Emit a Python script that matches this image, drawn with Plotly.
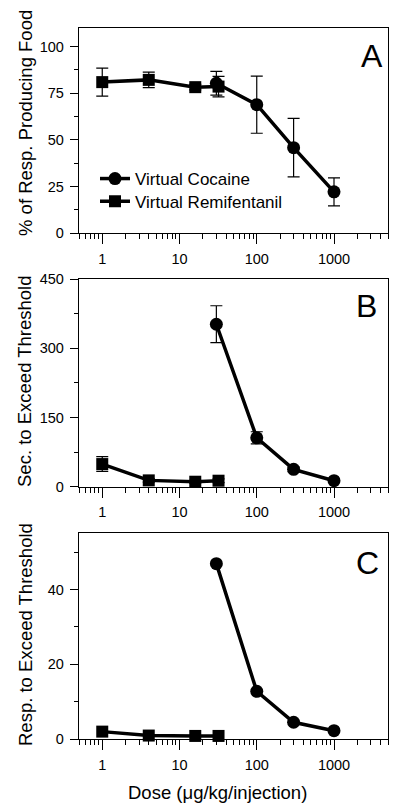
import math
import plotly.graph_objects as go

# ---------------- data ----------------
dose_cocaine = [30, 100, 300, 1000]
dose_remi = [1, 4, 16, 32]

# Panel A: % of responses producing food
cocaine_A = [80.4, 68.9, 45.9, 22.2]
cocaine_A_err = [6.4, 15.3, 15.7, 7.5]
remi_A = [81.0, 82.2, 78.3, 78.6]
remi_A_err = [7.5, 4.2, 1.5, 5.5]

# Panel B: seconds to exceed threshold
cocaine_B = [352, 106, 37.6, 13]
cocaine_B_err = [40, 13, 5, 3]
remi_B = [49, 13.7, 10.8, 13]
remi_B_err = [16, 4, 3, 4]

# Panel C: responses to exceed threshold
cocaine_C = [46.9, 12.8, 4.55, 2.3]
remi_C = [2.05, 1.0, 0.9, 0.9]

x_tickvals = [1, 10, 100, 1000]
x_ticktext = ["1", "10", "100", "1000"]

panel_letters = ["A", "B", "C"]
y_titles = ["% of Resp. Producing Food", "Sec. to Exceed Threshold", "Resp. to Exceed Threshold"]
x_title = "Dose (\u03bcg/kg/injection)"

# ---------------- layout helpers ----------------
# page body has an 8px margin, so the figure is 392x802 placed at (8, 8)
OFF = 8
W, H = 400 - OFF, 810 - OFF
FONT = "Liberation Sans, Arial, sans-serif"

def px_x(x):
    return (x - OFF) / W

def px_y(y):
    return (H - (y - OFF)) / H

x_dom = [px_x(79), px_x(388)]
y_doms = [
    [px_y(233.3), px_y(28)],
    [px_y(486.7), px_y(279)],
    [px_y(739.3), px_y(533.3)],
]

fig = go.Figure()

line_style = dict(color="black", width=3.5)
circ = dict(symbol="circle", size=13, color="black", line=dict(width=0))
sq = dict(symbol="square", size=12, color="black", line=dict(width=0))

def err(vals):
    return dict(type="data", array=vals, visible=True, color="black", thickness=1.2, width=6)

# Panel A
fig.add_trace(go.Scatter(x=dose_cocaine, y=cocaine_A, error_y=err(cocaine_A_err),
                         mode="lines+markers", line=line_style, marker=circ,
                         name="Virtual Cocaine", legend="legend",
                         xaxis="x", yaxis="y", cliponaxis=False))
fig.add_trace(go.Scatter(x=dose_remi, y=remi_A, error_y=err(remi_A_err),
                         mode="lines+markers", line=line_style, marker=sq,
                         name="Virtual Remifentanil", legend="legend2",
                         xaxis="x", yaxis="y", cliponaxis=False))
# Panel B
fig.add_trace(go.Scatter(x=dose_cocaine, y=cocaine_B, error_y=err(cocaine_B_err),
                         mode="lines+markers", line=line_style, marker=circ,
                         showlegend=False, xaxis="x2", yaxis="y2", cliponaxis=False))
fig.add_trace(go.Scatter(x=dose_remi, y=remi_B, error_y=err(remi_B_err),
                         mode="lines+markers", line=line_style, marker=sq,
                         showlegend=False, xaxis="x2", yaxis="y2", cliponaxis=False))
# Panel C
fig.add_trace(go.Scatter(x=dose_cocaine, y=cocaine_C,
                         mode="lines+markers", line=line_style, marker=circ,
                         showlegend=False, xaxis="x3", yaxis="y3", cliponaxis=False))
fig.add_trace(go.Scatter(x=dose_remi, y=remi_C,
                         mode="lines+markers", line=line_style, marker=sq,
                         showlegend=False, xaxis="x3", yaxis="y3", cliponaxis=False))

def xaxis_def(anchor):
    return dict(
        type="log", range=[math.log10(0.5), math.log10(5000)], domain=x_dom, anchor=anchor,
        tickmode="array", tickvals=x_tickvals, ticktext=x_ticktext,
        ticks="outside", ticklen=10, tickwidth=1.2, tickcolor="black",
        minor=dict(dtick="D1", ticks="outside", ticklen=5,
                   tickwidth=1.2, tickcolor="black", showgrid=False),
        showline=True, linecolor="black", linewidth=1.3, mirror=True,
        showgrid=False, zeroline=False, layer="below traces", automargin=False,
        tickfont=dict(family=FONT, size=14.5, color="black"),
        ticklabelstandoff=2,
    )

def yaxis_def(anchor, dom, rng, dtick, minor_dtick):
    return dict(
        range=rng, domain=dom, anchor=anchor,
        tick0=0, dtick=dtick,
        ticks="outside", ticklen=8, tickwidth=1.2, tickcolor="black",
        minor=dict(tick0=0, dtick=minor_dtick, ticks="outside", ticklen=4,
                   tickwidth=1.2, tickcolor="black", showgrid=False),
        showline=True, linecolor="black", linewidth=1.3, mirror=True,
        showgrid=False, zeroline=False, layer="below traces", automargin=False,
        tickfont=dict(family=FONT, size=14.5, color="black"),
        ticklabelstandoff=3,
    )

annotations = []
letter_pos = [(371.5, 56), (366, 306), (367.5, 563)]
for letter, (lx, ly) in zip(panel_letters, letter_pos):
    annotations.append(dict(text=letter, x=px_x(lx), y=px_y(ly), xref="paper", yref="paper",
                            xanchor="center", yanchor="middle", showarrow=False,
                            font=dict(family=FONT, size=32, color="black")))
title_pos = [(25, 123), (25, 381), (25, 635)]
for t, (tx, ty) in zip(y_titles, title_pos):
    annotations.append(dict(text=t, x=px_x(tx), y=px_y(ty), xref="paper", yref="paper",
                            xanchor="center", yanchor="middle", textangle=-90, showarrow=False,
                            font=dict(family=FONT, size=18.5, color="black")))
annotations.append(dict(text=x_title, x=px_x(217), y=px_y(792), xref="paper", yref="paper",
                        xanchor="center", yanchor="middle", showarrow=False,
                        font=dict(family=FONT, size=18.5, color="black")))

legend_common = dict(xanchor="left", yanchor="middle", bgcolor="rgba(0,0,0,0)", borderwidth=0,
                     font=dict(family=FONT, size=17, color="black"), itemwidth=30)

fig.update_layout(
    width=W, height=H,
    margin=dict(l=0, r=0, t=0, b=0),
    paper_bgcolor="white", plot_bgcolor="white",
    xaxis=xaxis_def("y"),
    xaxis2=xaxis_def("y2"),
    xaxis3=xaxis_def("y3"),
    yaxis=yaxis_def("x", y_doms[0], [0, 110], 25, 12.5),
    yaxis2=yaxis_def("x2", y_doms[1], [0, 450], 150, 75),
    yaxis3=yaxis_def("x3", y_doms[2], [0, 55], 20, 10),
    annotations=annotations,
    legend=dict(x=px_x(95), y=px_y(179), **legend_common),
    legend2=dict(x=px_x(95), y=px_y(201.7), **legend_common),
    showlegend=True,
)

fig.write_html("out.html")
